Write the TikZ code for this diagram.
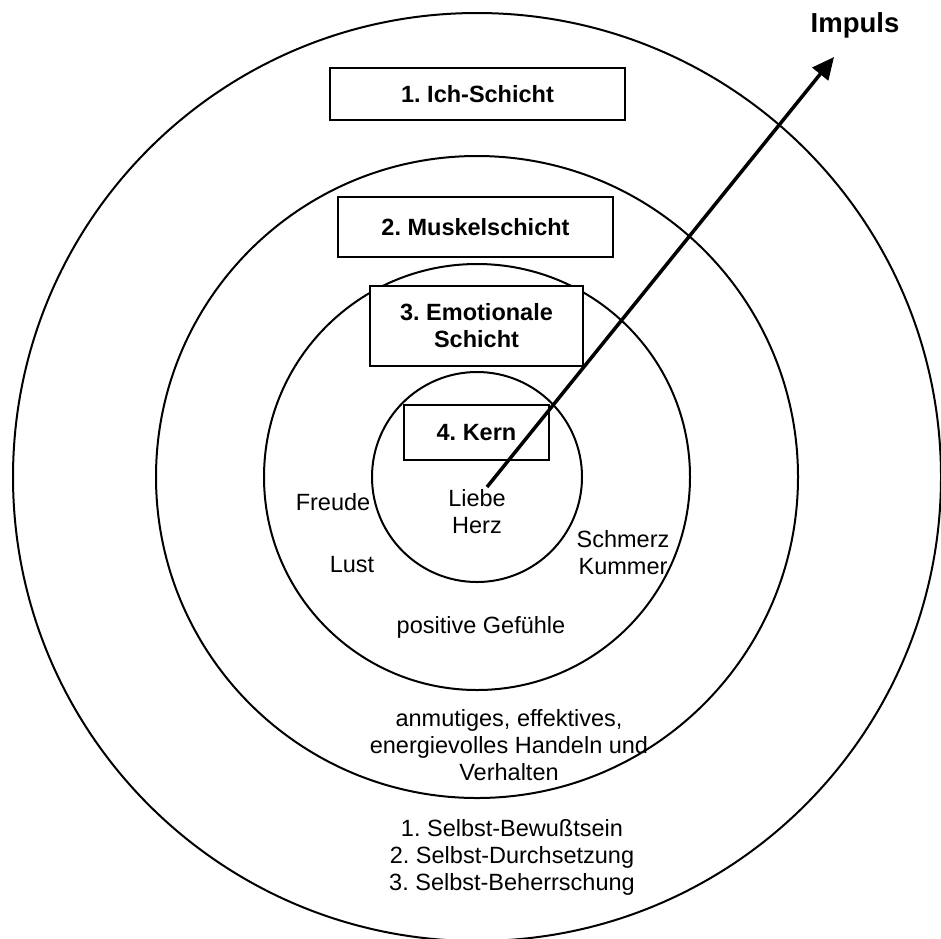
\documentclass[tikz,border=0pt]{standalone}
\usepackage{fontspec}
\setmainfont{Liberation Sans}
\usetikzlibrary{arrows.meta}
\frenchspacing

\begin{document}
\begin{tikzpicture}[x=1pt,y=-1pt,
  ring/.style={line width=2pt},
  schicht/.style={draw,line width=2pt,fill=white,inner sep=0pt,align=center,
    font=\fontsize{23.5}{27}\selectfont\bfseries},
  gefuehl/.style={inner sep=0pt,align=center,font=\fontsize{23.5}{27}\selectfont},
  impulspfeil/.style={line width=3.5pt,-{Triangle[length=22pt,width=20pt]}}]

	\useasboundingbox (0,0) rectangle (941,938);
	\clip (0,0) rectangle (941,938);

%	die vier Schichten
	\coordinate (mitte) at (477,477);
	\draw[ring] (mitte) circle (464);
	\draw[ring] (mitte) circle (321);
	\draw[ring] (mitte) circle (213);
	\draw[ring] (mitte) circle (105);

	\node[schicht,minimum width=295pt,minimum height=52pt] (ich) at (477.5,94) {1. Ich-Schicht};
	\node[schicht,minimum width=275pt,minimum height=60pt] (muskel) at (475.5,227) {2. Muskelschicht};
	\node[schicht,minimum width=213pt,minimum height=80pt] (emotion) at (476.5,326) {3. Emotionale\\Schicht};
	\node[schicht,minimum width=145pt,minimum height=55pt] (kern) at (476.5,432.5) {4. Kern};

	\node[gefuehl] (freude) at (333,502) {Freude};
	\node[gefuehl] (liebe) at (477,512) {Liebe\\Herz};
	\node[gefuehl] (lust) at (352,565) {Lust};
	\node[gefuehl] (schmerz) at (623,553) {Schmerz\\Kummer};
	\node[gefuehl] (positiv) at (481,627) {positive Gef\"uhle};
	\node[gefuehl] (handeln) at (509,745) {anmutiges, effektives,\\energievolles Handeln und\\Verhalten};
	\node[gefuehl] (selbst) at (512,857) {1. Selbst-Bewu\ss tsein\\2. Selbst-Durchsetzung\\3. Selbst-Beherrschung};

	\node[inner sep=0pt,font=\fontsize{27.5}{30}\selectfont\bfseries] (impuls) at (855,25) {Impuls};

%	Impuls vom Herzen nach aussen
	\coordinate (herzpunkt) at (487,487);
	\coordinate (impulsspitze) at (834,57);
	\draw[impulspfeil] (herzpunkt) -- (impulsspitze);

\end{tikzpicture}
\end{document}
